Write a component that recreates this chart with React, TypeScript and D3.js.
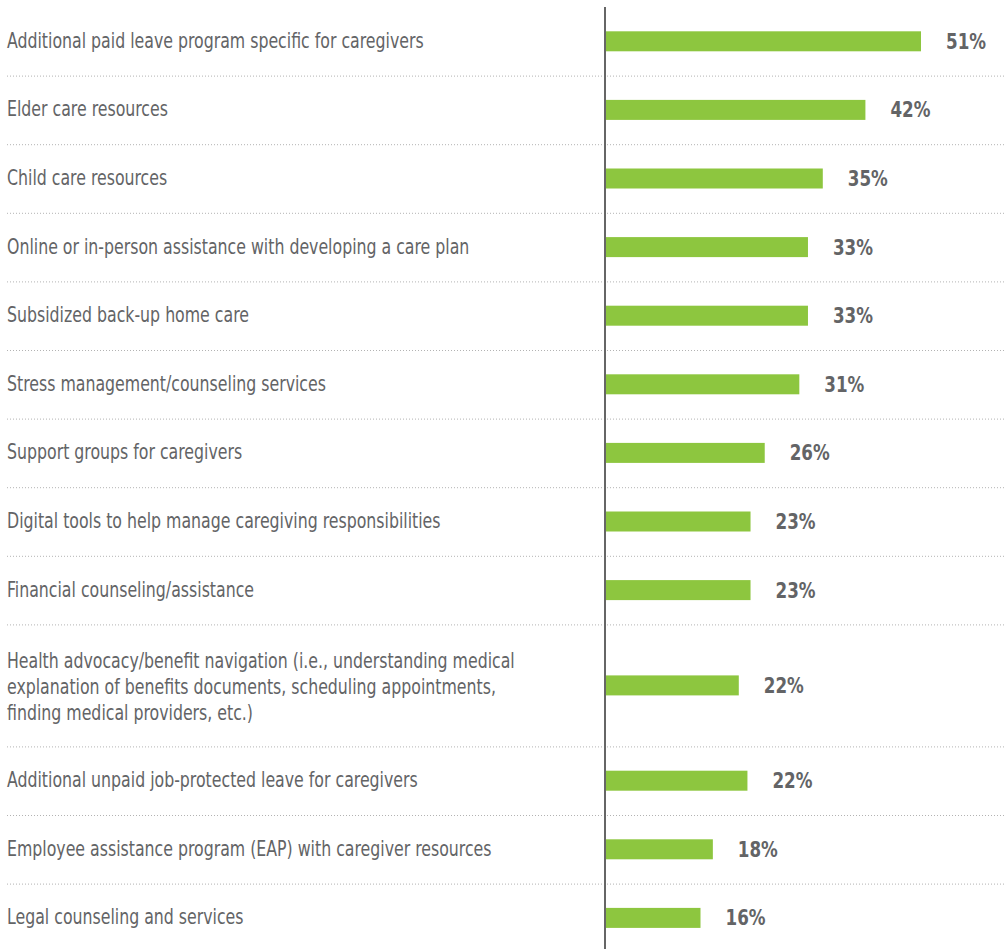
import React from "react";
import * as d3 from "d3";

const categories: string[][] = [
  ["Additional paid leave program specific for caregivers"],
  ["Elder care resources"],
  ["Child care resources"],
  ["Online or in-person assistance with developing a care plan"],
  ["Subsidized back-up home care"],
  ["Stress management/counseling services"],
  ["Support groups for caregivers"],
  ["Digital tools to help manage caregiving responsibilities"],
  ["Financial counseling/assistance"],
  [
    "Health advocacy/benefit navigation (i.e., understanding medical",
    "explanation of benefits documents, scheduling appointments,",
    "finding medical providers, etc.)",
  ],
  ["Additional unpaid job-protected leave for caregivers"],
  ["Employee assistance program (EAP) with caregiver resources"],
  ["Legal counseling and services"],
];

// bar lengths as drawn
const values: number[] = [51, 42, 35.1, 32.7, 32.7, 31.3, 25.7, 23.4, 23.4, 21.5, 22.9, 17.3, 15.3];
// printed labels
const valueLabels: string[] = ["51%", "42%", "35%", "33%", "33%", "31%", "26%", "23%", "23%", "22%", "22%", "18%", "16%"];

const W = 1006;
const H = 949;
const AXIS_X = 605;
const TOP = 7;
const ROW_H = 68.6;
const ROW_EXTRA = 26.7;
const LINE_H = 26;
const BAR_H = 20;

const FONT = "'DejaVu Sans Condensed', 'DejaVu Sans', sans-serif";
const LABEL_SX = 0.835;
const VALUE_SX = 0.845;

export default function App() {
  const rowHeights = categories.map((c) => ROW_H + (c.length - 1) * ROW_EXTRA);
  const ends = Array.from(d3.cumsum(rowHeights));
  const starts = ends.map((e, i) => e - rowHeights[i]);

  const x = d3.scaleLinear().domain([0, 51]).range([AXIS_X + 1, 921]);

  return (
    <svg
      width={W}
      height={H}
      style={{ position: "absolute", left: 0, top: 0, background: "#fff" }}
      fontFamily={FONT}
    >
      {ends.slice(0, -1).map((e, i) => (
        <line
          key={"sep" + i}
          x1={7}
          x2={W}
          y1={TOP + e + 0.5}
          y2={TOP + e + 0.5}
          stroke="#b3b3b3"
          strokeWidth={1}
          strokeDasharray="1,2"
        />
      ))}
      {categories.map((lines, i) => {
        const cy = TOP + starts[i] + rowHeights[i] / 2;
        const n = lines.length;
        const textCy = n > 1 ? cy + 1.5 : cy - 0.5;
        return (
          <g key={"row" + i}>
            {lines.map((t, j) => (
              <text
                key={j}
                transform={`translate(7,${textCy + (j - (n - 1) / 2) * LINE_H}) scale(${LABEL_SX},1)`}
                dominantBaseline="central"
                fontSize={21}
                fill="#636466"
              >
                {t}
              </text>
            ))}
            <rect
              x={x(0)}
              y={cy - BAR_H / 2}
              width={x(values[i]) - x(0)}
              height={BAR_H}
              fill="#8dc63f"
            />
            <text
              transform={`translate(${x(values[i]) + 25},${cy}) scale(${VALUE_SX},1)`}
              dominantBaseline="central"
              fontSize={22}
              fontWeight="bold"
              fill="#636466"
            >
              {valueLabels[i]}
            </text>
          </g>
        );
      })}
      <line x1={AXIS_X} x2={AXIS_X} y1={TOP} y2={H} stroke="#666" strokeWidth={2} />
    </svg>
  );
}
